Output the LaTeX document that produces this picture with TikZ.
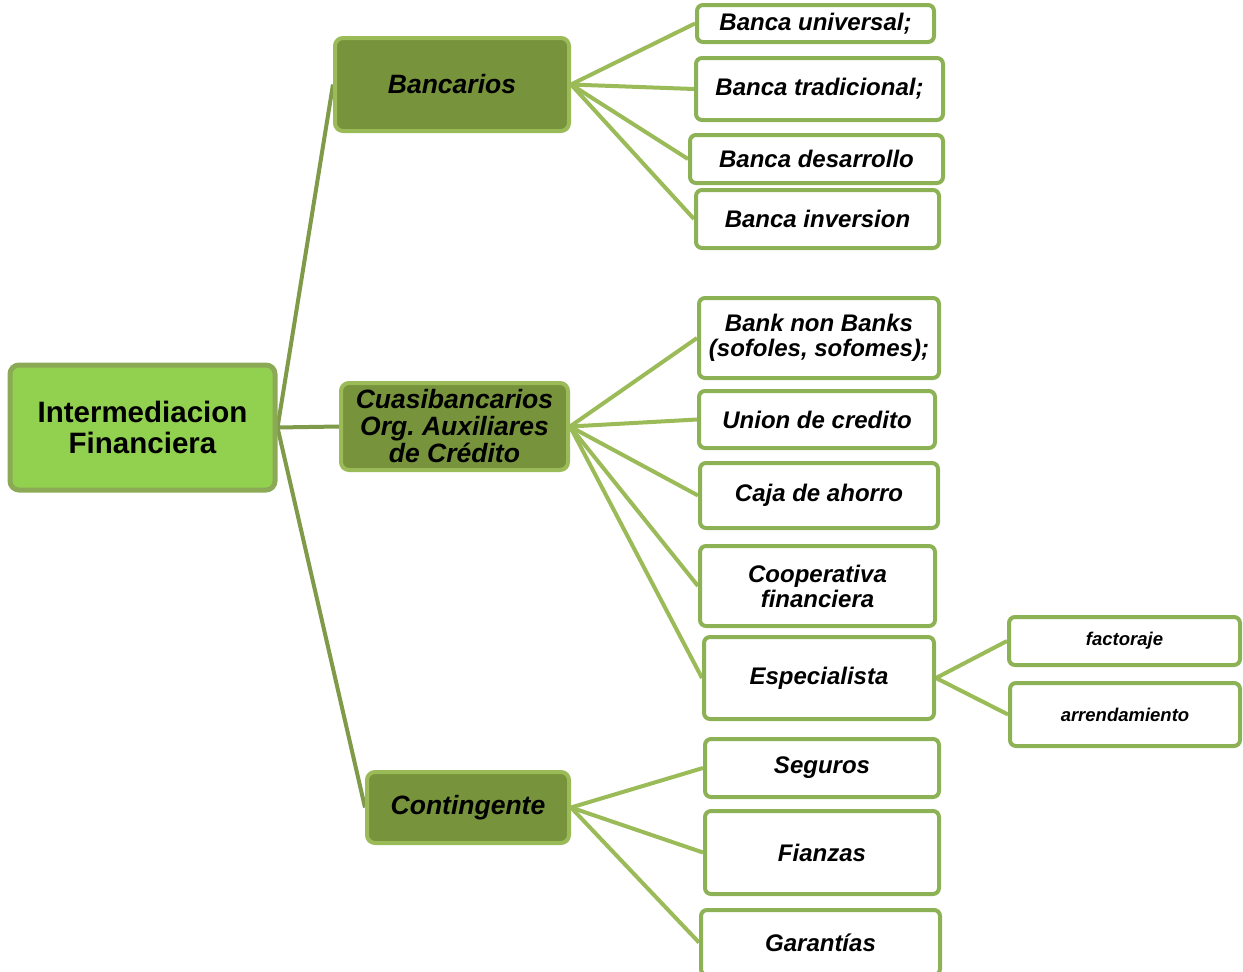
\documentclass[tikz,border=0pt]{standalone}
\usepackage{fontspec}
\setmainfont{Liberation Sans}
\usetikzlibrary{backgrounds}
\definecolor{rootfill}{HTML}{92D050}
\definecolor{rootdraw}{HTML}{8CAA55}
\definecolor{midfill}{HTML}{77933C}
\definecolor{middraw}{HTML}{9BBB59}
\definecolor{leafdraw}{HTML}{8DB255}
\definecolor{linedark}{HTML}{7F9A48}
\definecolor{linelight}{HTML}{9BBB59}
\tikzset{
  rootbox/.style={draw=rootdraw, fill=rootfill, line width=5pt, rounded corners=9pt, align=center,
    font=\fontsize{29.5}{31}\selectfont\bfseries, inner sep=0pt},
  midbox/.style={draw=middraw, fill=midfill, line width=4pt, rounded corners=8pt, align=center,
    font=\fontsize{26.5}{27}\selectfont\bfseries\itshape, inner sep=0pt},
  leafbox/.style={draw=leafdraw, fill=white, line width=4pt, rounded corners=6pt, align=center,
    font=\fontsize{24}{25}\selectfont\bfseries\itshape, inner sep=0pt},
  smallbox/.style={leafbox, font=\fontsize{18.5}{20}\selectfont\bfseries\itshape},
  darkline/.style={draw=linedark, line width=4pt},
  lightline/.style={draw=linelight, line width=4pt},
}
\begin{document}
\frenchspacing
\begin{tikzpicture}[x=1pt,y=-1pt]
\useasboundingbox (0,0) rectangle (1243,972);
\clip (0,0) rectangle (1243,972);
% level 0
\node[rootbox, minimum width=265, minimum height=125] (root) at (142.5,427.5) {Intermediacion\\Financiera};
% level 1
\node[midbox, minimum width=234, minimum height=93] (banc) at (452,84.5) {Bancarios};
\node[midbox, minimum width=227, minimum height=87] (cuasi) at (454.5,426.5) {Cuasibancarios\\Org. Auxiliares\\de Crédito};
\node[midbox, minimum width=202, minimum height=71] (cont) at (468,807.5) {Contingente};
% leaves of Bancarios
\node[leafbox, minimum width=237, minimum height=37] (bu) at (815.5,23.5) {Banca universal;};
\node[leafbox, minimum width=247, minimum height=62] (bt) at (819.5,89) {Banca tradicional;};
\node[leafbox, minimum width=253, minimum height=48] (bd) at (816.5,159) {Banca desarrollo};
\node[leafbox, minimum width=243, minimum height=58] (bi) at (817.5,219) {Banca inversion};
% leaves of Cuasibancarios
\node[leafbox, minimum width=240, minimum height=80] (bn) at (819,338) {Bank non Banks\\(sofoles, sofomes);};
\node[leafbox, minimum width=236, minimum height=57] (uc) at (817,419.5) {Union de credito};
\node[leafbox, minimum width=238, minimum height=65] (ca) at (819,495.5) {Caja de ahorro};
\node[leafbox, minimum width=235, minimum height=80] (co) at (817.5,586) {Cooperativa\\financiera};
\node[leafbox, minimum width=230, minimum height=82] (es) at (819,678) {Especialista};
\node[smallbox, minimum width=231, minimum height=48] (fa) at (1124.5,641) {factoraje};
\node[smallbox, minimum width=230, minimum height=63] (ar) at (1125,714.5) {arrendamiento};
% leaves of Contingente
\node[leafbox, minimum width=234, minimum height=58] (se) at (822,768) {Seguros};
\node[leafbox, minimum width=234, minimum height=83] (fi) at (822,852.5) {Fianzas};
\node[leafbox, minimum width=239, minimum height=65] (ga) at (820.5,942.5) {Garantías};
\begin{scope}[on background layer]
\draw[darkline] (root.east) -- (banc.west);
\draw[darkline] (root.east) -- (cuasi.west);
\draw[darkline] (root.east) -- (cont.west);
\foreach \t in {bu,bt,bd,bi} \draw[lightline] (banc.east) -- (\t.west);
\foreach \t in {bn,uc,ca,co,es} \draw[lightline] (cuasi.east) -- (\t.west);
\foreach \t in {fa,ar} \draw[lightline] (es.east) -- (\t.west);
\foreach \t in {se,fi,ga} \draw[lightline] (cont.east) -- (\t.west);
\end{scope}
\end{tikzpicture}
\end{document}
